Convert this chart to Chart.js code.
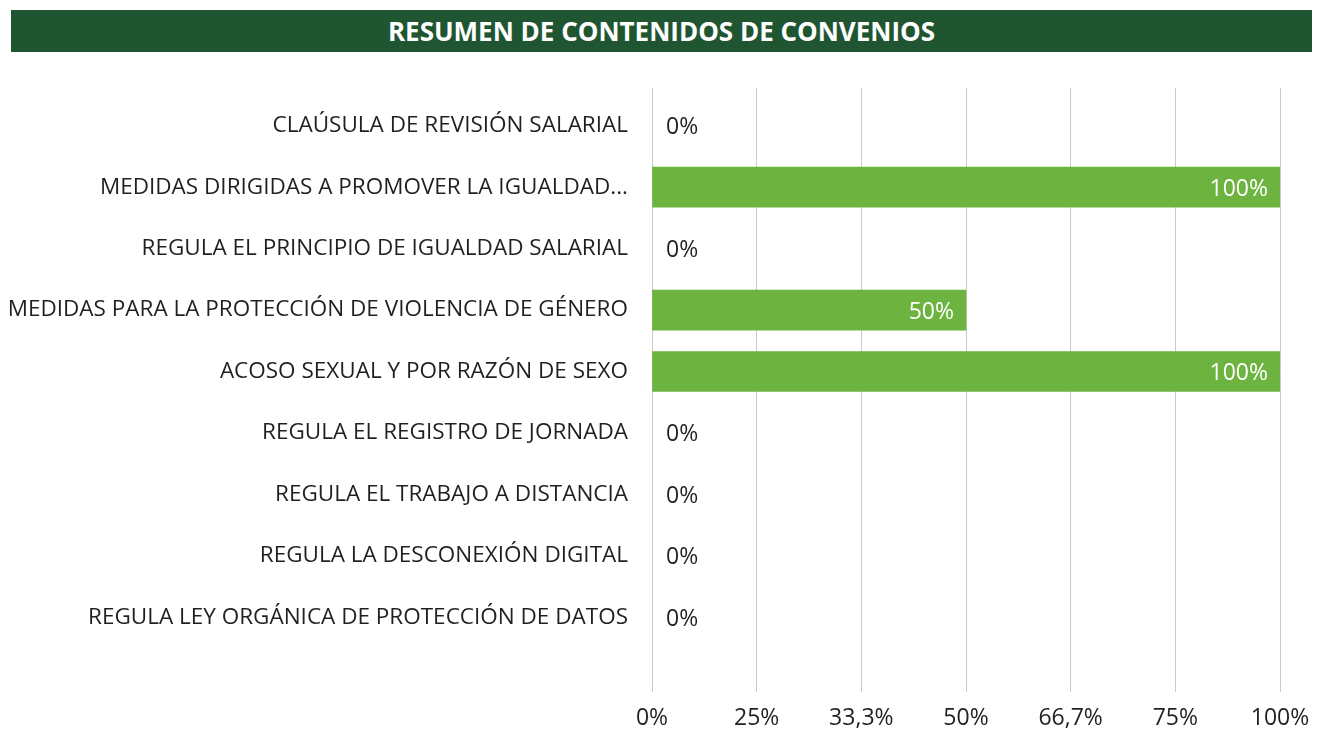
<!DOCTYPE html>
<html>
<head>
<meta charset="utf-8">
<script src="https://cdn.jsdelivr.net/npm/chart.js@4"></script>
<style>
    body { margin: 0; background: #fff; }
    #wrap { position: relative; width: 1317px; height: 730px; }
    #title {
        position: absolute; left: 11px; top: 10px; width: 1301px; height: 42px;
        background: #1F5631; color: #fff; font-family: "Open Sans", sans-serif;
        font-weight: 700; font-size: 26px; line-height: 42px; text-align: center;
    }
    canvas { position: absolute; left: 0; top: 0; }
</style>
</head>
<body>
<div id="wrap">
    <canvas id="convChart" width="1317" height="730"></canvas>
    <div id="title">RESUMEN DE CONTENIDOS DE CONVENIOS</div>
</div>
<script>
const categories = [
    'CLAÚSULA DE REVISIÓN SALARIAL',
    'MEDIDAS DIRIGIDAS A PROMOVER LA IGUALDAD...',
    'REGULA EL PRINCIPIO DE IGUALDAD SALARIAL',
    'MEDIDAS PARA LA PROTECCIÓN DE VIOLENCIA DE GÉNERO',
    'ACOSO SEXUAL Y POR RAZÓN DE SEXO',
    'REGULA EL REGISTRO DE JORNADA',
    'REGULA EL TRABAJO A DISTANCIA',
    'REGULA LA DESCONEXIÓN DIGITAL',
    'REGULA LEY ORGÁNICA DE PROTECCIÓN DE DATOS'
];
const values = [0, 100, 0, 50, 100, 0, 0, 0, 0];
const tickLabels = ['0%', '25%', '33,3%', '50%', '66,7%', '75%', '100%'];

const fontFamily = '"Open Sans", sans-serif';
const textColor = '#231F20';
const gridColor = '#CACACA';
const barColor = '#6DB33F';

// percentage text on each bar: white inside filled bars, dark next to empty ones
const valueLabels = {
    id: 'valueLabels',
    afterDatasetsDraw(chart) {
        const ctx = chart.ctx;
        const meta = chart.getDatasetMeta(0);
        ctx.save();
        ctx.font = '23px ' + fontFamily;
        ctx.textBaseline = 'middle';
        meta.data.forEach((bar, i) => {
            const v = values[i];
            if (v === 0) {
                ctx.fillStyle = textColor;
                ctx.textAlign = 'left';
                ctx.fillText(v + '%', bar.base + 14, bar.y + 2);
            } else {
                ctx.fillStyle = '#ffffff';
                ctx.textAlign = 'right';
                ctx.fillText(v + '%', bar.x - 12, bar.y + 2);
            }
        });
        ctx.restore();
    }
};

const xScale = {
    min: 0,
    max: 100,
    ticks: { stepSize: 100 / 6 }
};

new Chart(document.getElementById('convChart'), {
    type: 'bar',
    data: {
        labels: categories,
        datasets: [{
            data: values,
            backgroundColor: values.map(v => v > 0 ? barColor : 'rgba(0,0,0,0)'),
            barThickness: 40
        }]
    },
    options: {
        indexAxis: 'y',
        responsive: false,
        animation: false,
        layout: { padding: { top: 88, right: 37, left: 0, bottom: 0 } },
        plugins: { legend: { display: false }, tooltip: { enabled: false } },
        scales: {
            x: {
                ...xScale,
                position: 'bottom',
                grid: { color: gridColor, tickLength: 44, tickColor: gridColor },
                border: { display: false },
                ticks: {
                    ...xScale.ticks,
                    padding: 13,
                    color: textColor,
                    font: { family: fontFamily, size: 23 },
                    maxRotation: 0,
                    autoSkip: false,
                    callback: (val, i) => tickLabels[i]
                },
                // keep the plot edge fixed; the last label may hang into the margin
                afterFit: (s) => { s.height = 82; s.paddingLeft = 0; s.paddingRight = 0; }
            },
            xTop: {
                ...xScale,
                axis: 'x',
                position: 'top',
                grid: { drawOnChartArea: false, tickLength: 7, tickColor: gridColor },
                border: { display: false },
                ticks: { ...xScale.ticks, display: false }
            },
            y: {
                grid: { display: false },
                border: { display: false },
                ticks: {
                    padding: 16,
                    color: textColor,
                    font: { family: fontFamily, size: 22.5 }
                },
                afterFit: (s) => { s.width = 652; }
            }
        }
    },
    plugins: [valueLabels]
});
</script>
</body>
</html>
